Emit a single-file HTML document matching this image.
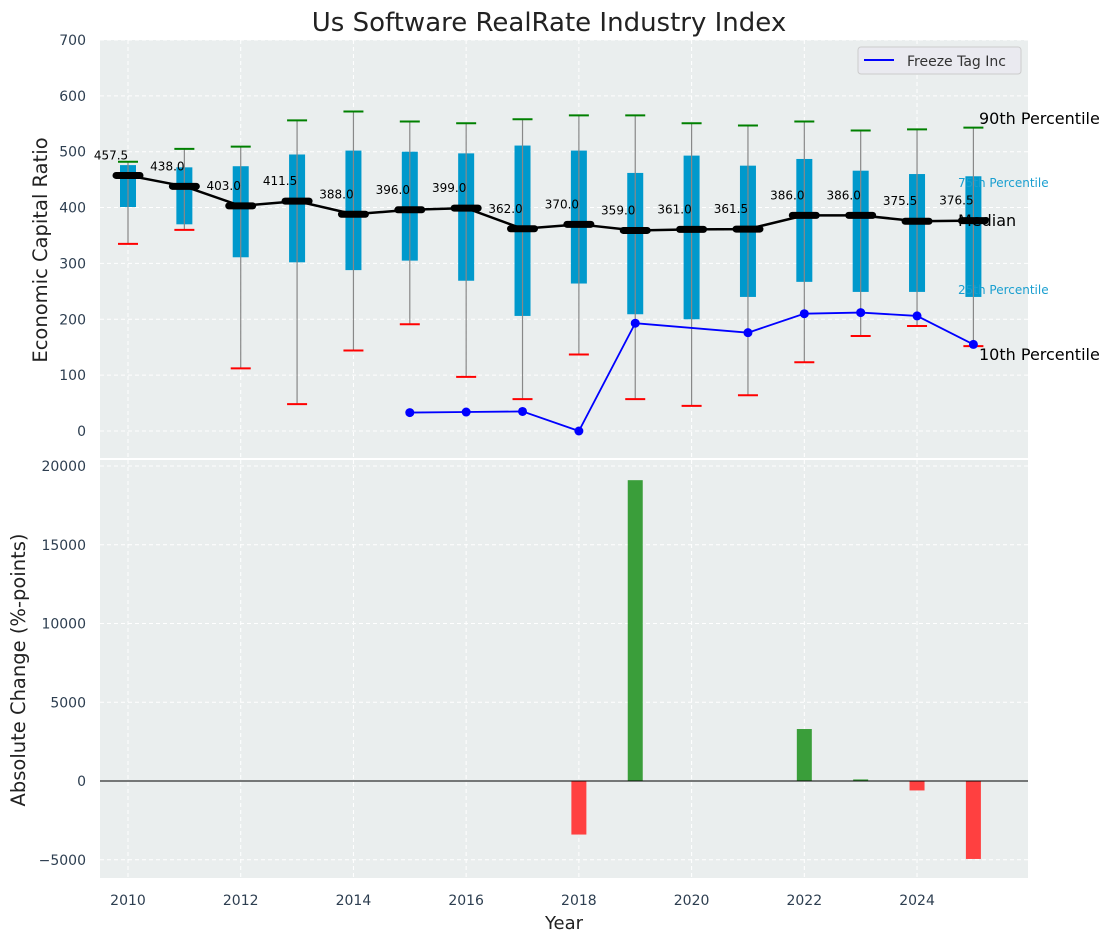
<!DOCTYPE html>
<html><head><meta charset="utf-8"><style>
body{margin:0;background:#fff;font-family:"DejaVu Sans","Liberation Sans",sans-serif}
svg{display:block}
</style></head><body>
<svg id="c" width="1114" height="942" xmlns="http://www.w3.org/2000/svg" font-family="DejaVu Sans, Liberation Sans, sans-serif"></svg>
<script>
const years=[2010,2011,2012,2013,2014,2015,2016,2017,2018,2019,2020,2021,2022,2023,2024,2025];
const p90=[482,505,509,556,572,554,551,558,565,565,551,547,554,538,540,543];
const p75=[476,472,474,495,502,500,497,511,502,462,493,475,487,466,460,456];
const medians=[457.5,438,403,411.5,388,396,399,362,370,359,361,361.5,386,386,375.5,376.5];
const p25=[401,370,311,302,288,305,269,206,264,209,200,240,267,249,249,240];
const p10=[335,360,112,48,144,191,97,57,137,57,45,64,123,170,188,152];
const ftYears=[2015,2016,2017,2018,2019,2021,2022,2023,2024,2025];
const ftValues=[33,34,35,0,193,176,210,212,206,155];
const chgYears=[2018,2019,2022,2023,2024,2025];
const chgValues=[-3400,19100,3300,100,-600,-4950];
const topTicks=[0,100,200,300,400,500,600,700];
const botTicks=[-5000,0,5000,10000,15000,20000];
const xTicks=[2010,2012,2014,2016,2018,2020,2022,2024];

const svg=document.getElementById('c');const NS='http://www.w3.org/2000/svg';
function el(t,a,txt,p){const e=document.createElementNS(NS,t);for(const k in a)e.setAttribute(k,a[k]);if(txt!==undefined&&txt!==null)e.textContent=txt;(p||svg).appendChild(e);return e;}
const L=100,R=1028,T1=40,B1=458,T2=460,B2=878;
const X=y=>128+(y-2010)*56.36;
const Y1=v=>431-v*0.5586;
const Y2=v=>781-v*0.01575;

let e;
e=el('rect',{x:L,y:T1,width:R-L,height:B1-T1,fill:'#eaeeee'});

e=el('rect',{x:L,y:T2,width:R-L,height:B2-T2,fill:'#eaeeee'});

xTicks.forEach(t=>{[[T1,B1],[T2,B2]].forEach(r=>{el('line',{x1:X(t),x2:X(t),y1:r[0],y2:r[1],stroke:'#fff','stroke-dasharray':'4,3','stroke-width':1});});
 e=el('text',{x:X(t),y:905,'text-anchor':'middle','font-size':14,fill:'#2d3e50'},String(t));
 });
topTicks.forEach(t=>{el('line',{x1:L,x2:R,y1:Y1(t),y2:Y1(t),stroke:'#fff','stroke-dasharray':'4,3'});
 e=el('text',{x:86,y:Y1(t)+5,'text-anchor':'end','font-size':14,fill:'#2d3e50'},String(t));
 });
botTicks.forEach(t=>{el('line',{x1:L,x2:R,y1:Y2(t),y2:Y2(t),stroke:'#fff','stroke-dasharray':'4,3'});
 e=el('text',{x:86,y:Y2(t)+5,'text-anchor':'end','font-size':14,fill:'#2d3e50'},(t<0?'\u2212'+(-t):String(t)));
 });
years.forEach((y,i)=>{const x=X(y);
 e=el('rect',{x:x-8,y:Y1(p75[i]),width:16,height:Y1(p25[i])-Y1(p75[i]),fill:'#0099cc'});
 
 e=el('line',{x1:x,x2:x,y1:Y1(p90[i]),y2:Y1(p10[i]),stroke:'#888','stroke-width':1.2});
 
 e=el('line',{x1:x-10,x2:x+10,y1:Y1(p90[i]),y2:Y1(p90[i]),stroke:'green','stroke-width':2});
 
 e=el('line',{x1:x-10,x2:x+10,y1:Y1(p10[i]),y2:Y1(p10[i]),stroke:'red','stroke-width':2});
 
});
e=el('polyline',{points:years.map((y,i)=>X(y)+','+Y1(medians[i])).join(' '),fill:'none',stroke:'#000','stroke-width':2.5});

years.forEach((y,i)=>{const x=X(y);
 e=el('line',{x1:x-12,x2:x+12,y1:Y1(medians[i]),y2:Y1(medians[i]),stroke:'#000','stroke-width':7,'stroke-linecap':'round'});
 
 e=el('text',{x:x-17,y:Y1(medians[i])-16,'text-anchor':'middle','font-size':12,fill:'#000'},medians[i].toFixed(1));
 
});
e=el('polyline',{points:ftYears.map((y,i)=>X(y)+','+Y1(ftValues[i])).join(' '),fill:'none',stroke:'blue','stroke-width':1.8});

ftYears.forEach((y,i)=>{e=el('circle',{cx:X(y),cy:Y1(ftValues[i]),r:4.5,fill:'blue'});
 });
[['90th Percentile',979,124,16,'#000'],['75th Percentile',958,187,12,'#1a9fd0'],['Median',958,226,16,'#000'],['25th Percentile',958,294,12,'#1a9fd0'],['10th Percentile',979,360,16,'#000']].forEach(a=>{
 e=el('text',{x:a[1],y:a[2],'font-size':a[3],fill:a[4]},a[0]);
 });
const lg=el('g',{});
el('rect',{x:858,y:47,width:163,height:27,rx:3,fill:'#eaeaf0',stroke:'#ccc'},null,lg);
el('line',{x1:864,x2:894,y1:60,y2:60,stroke:'blue','stroke-width':2},null,lg);
el('text',{x:907,y:66,'font-size':14,fill:'#333'},'Freeze Tag Inc',lg);
chgYears.forEach((y,i)=>{const v=chgValues[i];const y0=Y2(Math.max(v,0)),y1=Y2(Math.min(v,0));
 e=el('rect',{x:X(y)-7.5,y:y0,width:15,height:Math.max(y1-y0,1),fill:v>=0?'#3a9e3a':'#ff4040'});
 });
el('line',{x1:L,x2:R,y1:Y2(0),y2:Y2(0),stroke:'#000','stroke-width':1});
e=el('text',{x:549,y:31,'text-anchor':'middle','font-size':26,fill:'#222'},'Us Software RealRate Industry Index');

e=el('text',{x:564,y:929,'text-anchor':'middle','font-size':18,fill:'#222'},'Year');

e=el('text',{x:47,y:250,'text-anchor':'middle','font-size':19.5,fill:'#222',transform:'rotate(-90 47 250)'},'Economic Capital Ratio');

e=el('text',{x:25,y:670,'text-anchor':'middle','font-size':19.5,fill:'#222',transform:'rotate(-90 25 670)'},'Absolute Change (%-points)');

</script>
</body></html>
